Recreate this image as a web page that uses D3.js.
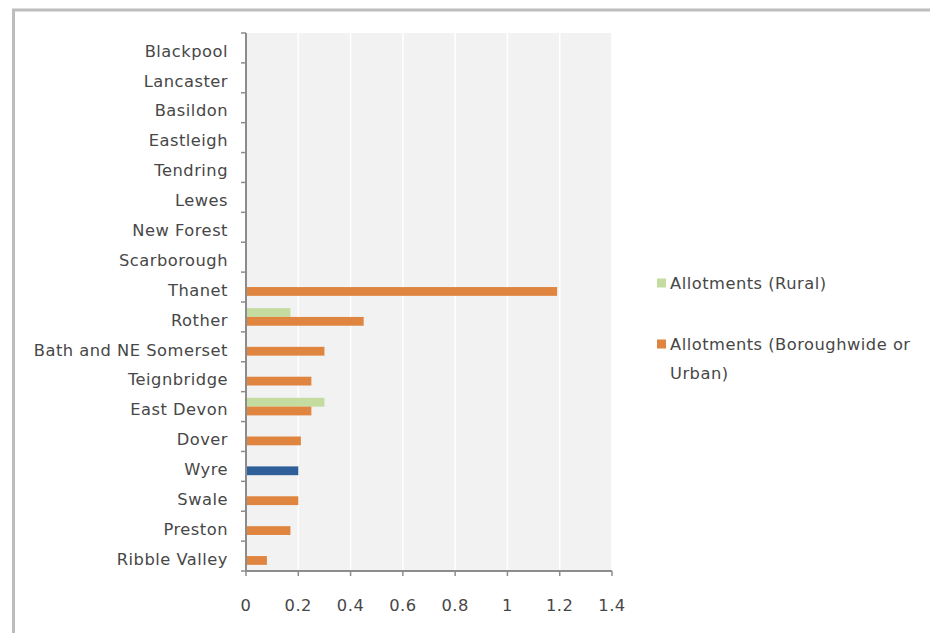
<!DOCTYPE html>
<html><head><meta charset="utf-8">
<script src="https://cdn.jsdelivr.net/npm/d3@7"></script>
<style>html,body{margin:0;padding:0;background:#fff;}svg{display:block;}</style>
</head><body>
<svg id="chart" width="930" height="633"></svg>
<script>
const categories = ["Blackpool","Lancaster","Basildon","Eastleigh","Tendring","Lewes","New Forest","Scarborough","Thanet","Rother","Bath and NE Somerset","Teignbridge","East Devon","Dover","Wyre","Swale","Preston","Ribble Valley"];
const seriesNames = ["Allotments (Rural)","Allotments (Boroughwide or Urban)"];
const rural = [0,0,0,0,0,0,0,0,0,0.17,0,0,0.30,0,0,0,0,0];
const urban = [0,0,0,0,0,0,0,0,1.19,0.45,0.30,0.25,0.25,0.21,0.20,0.20,0.17,0.08];
const highlighted = ["Wyre"];
const xTicks = [0,0.2,0.4,0.6,0.8,1,1.2,1.4];

(function(){
const colors = {"Allotments (Rural)":"#c4dca0","Allotments (Boroughwide or Urban)":"#df853f"};
const highlightColor = "#2f5f98";
const font = "'DejaVu Sans', sans-serif";
const textColor = "#474747";
const fs = 16.3, ls = 0.5;

const svg = d3.select("#chart");
svg.append("rect").attr("x",13.5).attr("y",10).attr("width",1000).attr("height",1000)
  .attr("fill","#fff").attr("stroke","#bdbdbd").attr("stroke-width",3);

const pL = 246, pR = 612, pT = 33, pB = 571;
const x = d3.scaleLinear().domain([0,1.4]).range([pL,pR]);
const y = d3.scaleBand().domain(categories).range([pT,pB]).padding(0);
const sub = d3.scaleBand().domain(seriesNames).range([0,y.bandwidth()]).paddingInner(0).paddingOuter(0.7);

svg.append("rect").attr("x",pL).attr("y",pT).attr("width",pR-pL).attr("height",pB-pT).attr("fill","#f2f2f2");

svg.append("g").selectAll("line").data(xTicks.slice(1)).join("line")
  .attr("x1",d=>x(d)).attr("x2",d=>x(d)).attr("y1",pT).attr("y2",pB)
  .attr("stroke","#ffffff").attr("stroke-width",1.5);

const data = [];
categories.forEach((c,i)=>{
  data.push({cat:c, s:seriesNames[0], v:rural[i]});
  data.push({cat:c, s:seriesNames[1], v:urban[i]});
});
svg.append("g").selectAll("rect").data(data.filter(d=>d.v>0)).join("rect")
  .attr("x",x(0)).attr("y",d=>y(d.cat)+sub(d.s))
  .attr("width",d=>x(d.v)-x(0)).attr("height",sub.bandwidth())
  .attr("fill",d=> (d.s===seriesNames[1] && highlighted.includes(d.cat)) ? highlightColor : colors[d.s]);

const ya = svg.append("g");
ya.append("line").attr("x1",pL).attr("x2",pL).attr("y1",pT).attr("y2",pB).attr("stroke","#8c8c8c").attr("stroke-width",2);
const bounds = categories.map(c=>y(c)).concat([pB]);
ya.selectAll("line.t").data(bounds).join("line").attr("class","t")
  .attr("x1",pL-5).attr("x2",pL).attr("y1",d=>d).attr("y2",d=>d).attr("stroke","#8c8c8c").attr("stroke-width",1.5);
ya.selectAll("text").data(categories).join("text")
  .attr("x",228).attr("y",d=>y(d)+y.bandwidth()/2+3).attr("dy","0.35em")
  .attr("text-anchor","end").attr("font-family",font).attr("font-size",fs).attr("letter-spacing",ls)
  .attr("fill",textColor).text(d=>d);

const xa = svg.append("g");
xa.append("line").attr("x1",pL-1).attr("x2",pR).attr("y1",pB).attr("y2",pB).attr("stroke","#8c8c8c").attr("stroke-width",2);
xa.selectAll("line.t").data(xTicks).join("line").attr("class","t")
  .attr("x1",d=>x(d)).attr("x2",d=>x(d)).attr("y1",pB).attr("y2",pB+5).attr("stroke","#8c8c8c").attr("stroke-width",1.5);
xa.selectAll("text").data(xTicks).join("text")
  .attr("x",d=>x(d)).attr("y",605).attr("dy","0.35em").attr("text-anchor","middle")
  .attr("font-family",font).attr("font-size",fs).attr("letter-spacing",ls).attr("fill",textColor).text(d=>d3.format("")(d));

const lg = svg.append("g");
const legendItems = [
  {name:seriesNames[0], lines:["Allotments (Rural)"], y:283},
  {name:seriesNames[1], lines:["Allotments (Boroughwide or","Urban)"], y:344}
];
legendItems.forEach(it=>{
  lg.append("rect").attr("x",657).attr("y",it.y-4.5).attr("width",9).attr("height",9).attr("fill",colors[it.name]);
  it.lines.forEach((l,j)=>{
    lg.append("text").attr("x",670).attr("y",it.y+j*29).attr("dy","0.35em")
      .attr("font-family",font).attr("font-size",fs).attr("letter-spacing",ls).attr("fill",textColor).text(l);
  });
});
})();
</script>
</body></html>
